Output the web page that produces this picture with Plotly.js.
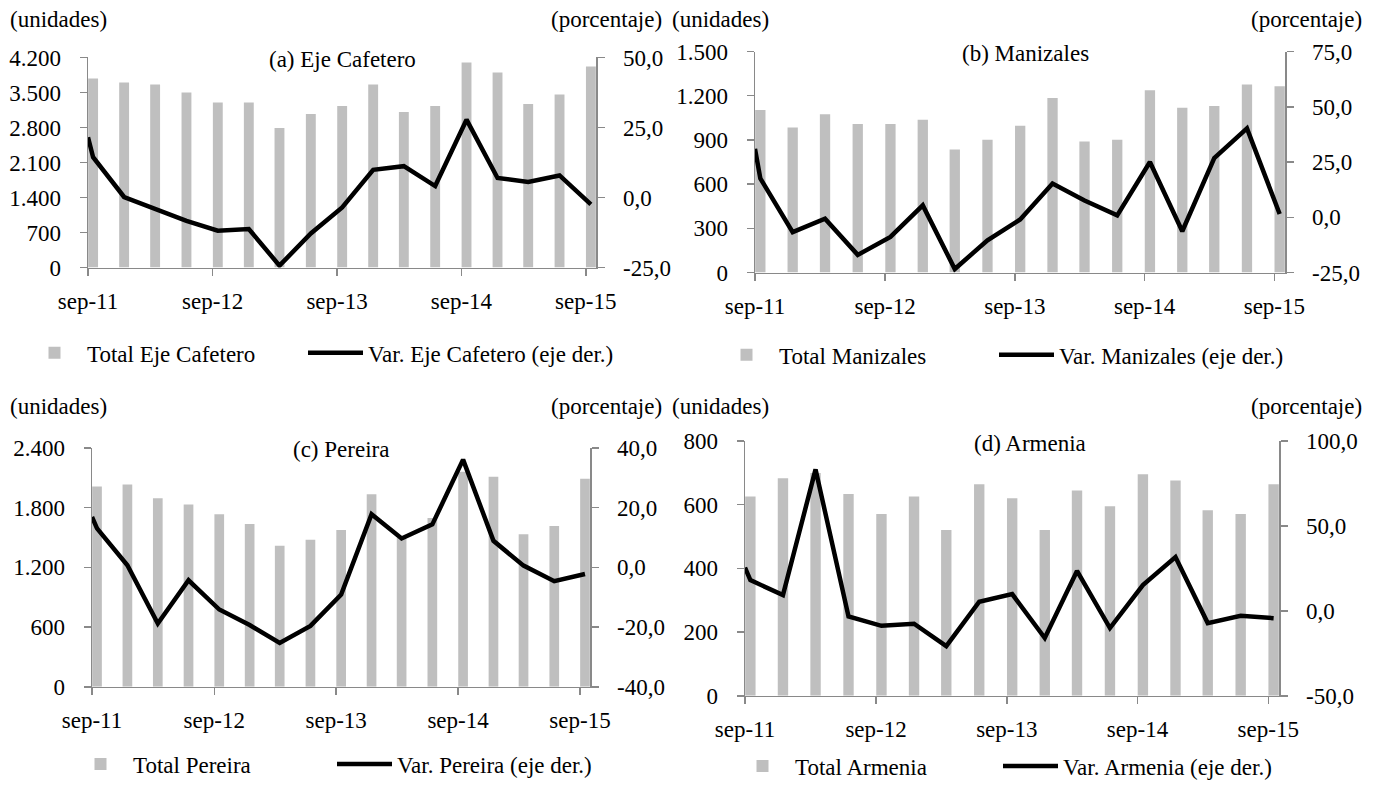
<!DOCTYPE html>
<html>
<head>
<meta charset="utf-8">
<script src="https://cdn.plot.ly/plotly-3.0.1.min.js"></script>
<style>html,body{margin:0;padding:0;background:#fff;overflow:hidden;}#chart{width:1385px;height:788px;}</style>
</head>
<body>
<div id="chart"></div>
<script>
// ---- data ----
const quarters = ['2011-09-16','2011-12-16','2012-03-16','2012-06-16','2012-09-16','2012-12-16','2013-03-16','2013-06-16','2013-09-16','2013-12-16','2014-03-16','2014-06-16','2014-09-16','2014-12-16','2015-03-16','2015-06-16','2015-09-16'];
const lineDates = ['2011-09-01'].concat(quarters); // first point: value where the line enters the plot
const yearTickVals = ['2011-09-01','2012-09-01','2013-09-01','2014-09-01','2015-09-01'];
const yearTickText = ['sep-11','sep-12','sep-13','sep-14','sep-15'];

const totalEje = [3780,3700,3660,3500,3300,3300,2790,3070,3230,3660,3110,3230,4100,3900,3270,3460,4020];
const varEje = [21.5,14.4,0.2,-3.9,-8.3,-11.8,-11.2,-24.3,-12.8,-3.5,9.9,11.2,4.1,27.8,7.0,5.6,7.9,-2.4];
const totalManizales = [1104,984,1075,1008,1008,1037,836,901,997,1185,890,901,1238,1118,1131,1276,1265];
const varManizales = [31.0,17.6,-6.7,-0.6,-17.0,-8.9,5.4,-23.4,-10.4,-1.0,15.3,7.6,0.9,25.0,-6.3,26.8,40.2,1.5];
const totalPereira = [2012,2032,1896,1833,1733,1637,1418,1477,1577,1936,1500,1697,2160,2112,1534,1617,2092];
const varPereira = [16.9,13.1,0.7,-18.8,-4.3,-14.1,-19.3,-25.3,-19.6,-9.1,17.8,9.7,14.4,36.1,8.9,0.6,-4.6,-2.2];
const totalArmenia = [626,683,700,634,571,626,521,664,620,521,645,595,696,676,583,571,664];
const varArmenia = [25.5,18.1,9.3,83.3,-3.3,-8.8,-7.6,-20.8,5.4,9.9,-16.0,23.5,-10.1,15.2,31.7,-7.2,-2.9,-4.3];

const leftTicksEje = [0,700,1400,2100,2800,3500,4200];
const leftTextEje = ['0','700','1.400','2.100','2.800','3.500','4.200'];
const rightTicksEje = [-25,0,25,50];
const rightTextEje = ['-25,0','0,0','25,0','50,0'];
const leftTicksMan = [0,300,600,900,1200,1500];
const leftTextMan = ['0','300','600','900','1.200','1.500'];
const rightTicksMan = [-25,0,25,50,75];
const rightTextMan = ['-25,0','0,0','25,0','50,0','75,0'];
const leftTicksPer = [0,600,1200,1800,2400];
const leftTextPer = ['0','600','1.200','1.800','2.400'];
const rightTicksPer = [-40,-20,0,20,40];
const rightTextPer = ['-40,0','-20,0','0,0','20,0','40,0'];
const leftTicksArm = [0,200,400,600,800];
const leftTextArm = ['0','200','400','600','800'];
const rightTicksArm = [-50,0,50,100];
const rightTextArm = ['-50,0','0,0','50,0','100,0'];

const panelTitles = ['(a) Eje Cafetero','(b) Manizales','(c) Pereira','(d) Armenia'];
const barNames = ['Total Eje Cafetero','Total Manizales','Total Pereira','Total Armenia'];
const lineNames = ['Var. Eje Cafetero (eje der.)','Var. Manizales (eje der.)','Var. Pereira (eje der.)','Var. Armenia (eje der.)'];

// ---- styling ----
const W = 1385, H = 788;
const FONT = '"Liberation Serif", "Times New Roman", Times, serif';
const FS = 23;
const AXC = '#898989';
const BARC = '#BFBFBF';
const BARW = 29 * 86400000;
const LEG_TEXT_OFFSET = 66;
const px = v => v / W;
const py = v => 1 - v / H;

const panels = [
  {tot: totalEje, vr: varEje, lt: leftTicksEje, ltx: leftTextEje, lr: [0,4200], rt: rightTicksEje, rtx: rightTextEje, rr: [-25,50],
   dom: {x0: 88, x1: 596, y0: 58, y1: 270}, leg: {bx: 88, lx: 369, y: 356}, titleDx: 0},
  {tot: totalManizales, vr: varManizales, lt: leftTicksMan, ltx: leftTextMan, lr: [0,1500], rt: rightTicksMan, rtx: rightTextMan, rr: [-25,75],
   dom: {x0: 755, x1: 1285, y0: 52, y1: 275}, leg: {bx: 780, lx: 1060, y: 358}, titleDx: 5},
  {tot: totalPereira, vr: varPereira, lt: leftTicksPer, ltx: leftTextPer, lr: [0,2400], rt: rightTicksPer, rtx: rightTextPer, rr: [-40,40],
   dom: {x0: 92, x1: 590, y0: 452, y1: 693}, leg: {bx: 134, lx: 398, y: 771}, titleDx: 0},
  {tot: totalArmenia, vr: varArmenia, lt: leftTicksArm, ltx: leftTextArm, lr: [0,800], rt: rightTicksArm, rtx: rightTextArm, rr: [-50,100],
   dom: {x0: 745, x1: 1279, y0: 445, y1: 702}, leg: {bx: 796, lx: 1064, y: 773}, titleDx: 18}
];

const data = [];
const layout = {
  width: W, height: H,
  margin: {l: 0, r: 0, t: 0, b: 0},
  paper_bgcolor: '#fff', plot_bgcolor: 'rgba(0,0,0,0)',
  font: {family: FONT, size: FS, color: '#000'},
  showlegend: true,
  annotations: [],
  barmode: 'overlay'
};

const tf = {family: FONT, size: FS, color: '#000'};
function legendAt(textX, y) {
  return {
    orientation: 'h', x: px(textX - LEG_TEXT_OFFSET), y: py(y), xanchor: 'left', yanchor: 'middle',
    bgcolor: 'rgba(0,0,0,0)', font: tf, itemwidth: 55
  };
}

panels.forEach((p, i) => {
  const n = i + 1;
  const xa = n === 1 ? 'x' : 'x' + n;
  const yL = 'y' + (2 * i + 1 === 1 ? '' : (2 * i + 1));
  const yR = 'y' + (2 * i + 2);
  const legBar = (2 * i + 1) === 1 ? 'legend' : 'legend' + (2 * i + 1);
  const legLine = 'legend' + (2 * i + 2);
  data.push({
    type: 'bar', x: quarters, y: p.tot, name: barNames[i], width: BARW,
    marker: {color: BARC, line: {width: 0}}, xaxis: xa, yaxis: yL, legend: legBar
  });
  data.push({
    type: 'scatter', mode: 'lines', x: lineDates, y: p.vr, name: lineNames[i],
    line: {color: '#000', width: 4.5}, xaxis: xa, yaxis: yR, legend: legLine
  });
  const xKey = n === 1 ? 'xaxis' : 'xaxis' + n;
  const yLKey = 'yaxis' + (2 * i + 1 === 1 ? '' : (2 * i + 1));
  const yRKey = 'yaxis' + (2 * i + 2);
  layout[xKey] = {
    type: 'date', domain: [px(p.dom.x0), px(p.dom.x1)], range: ['2011-09-01', '2015-10-01'],
    anchor: yL, tickmode: 'array', tickvals: yearTickVals, ticktext: yearTickText,
    showline: true, linecolor: AXC, linewidth: 1.5, ticks: 'outside', ticklen: 7, tickcolor: AXC, tickwidth: 1.5,
    showgrid: false, zeroline: false, tickfont: tf, ticklabelstandoff: 5, fixedrange: true, automargin: false
  };
  layout[yLKey] = {
    domain: [py(p.dom.y1), py(p.dom.y0)], range: p.lr, anchor: xa,
    tickmode: 'array', tickvals: p.lt, ticktext: p.ltx,
    showline: true, linecolor: AXC, linewidth: 1.5, ticks: 'outside', ticklen: 7, tickcolor: AXC, tickwidth: 1.5,
    showgrid: false, zeroline: false, tickfont: tf, ticklabelstandoff: 14, fixedrange: true, automargin: false
  };
  layout[yRKey] = {
    overlaying: yL, side: 'right', range: p.rr, anchor: xa,
    tickmode: 'array', tickvals: p.rt, ticktext: p.rtx,
    showline: true, linecolor: AXC, linewidth: 1.5, ticks: 'outside', ticklen: 7, tickcolor: AXC, tickwidth: 1.5,
    showgrid: false, zeroline: false, tickfont: tf, ticklabelstandoff: 14, fixedrange: true, automargin: false
  };
  layout[legBar] = legendAt(p.leg.bx, p.leg.y);
  layout[legLine] = legendAt(p.leg.lx, p.leg.y);
  layout.annotations.push({
    text: panelTitles[i], xref: 'paper', yref: 'paper',
    x: px((p.dom.x0 + p.dom.x1) / 2 + p.titleDx), y: py(p.dom.y0 + 2), xanchor: 'center', yanchor: 'middle',
    showarrow: false, font: tf
  });
});

// unit labels
const unitRow = [
  {t: '(unidades)', x: 8, y: 20, a: 'left'},
  {t: '(porcentaje)', x: 664, y: 20, a: 'right'},
  {t: '(unidades)', x: 670, y: 20, a: 'left'},
  {t: '(porcentaje)', x: 1364, y: 20, a: 'right'},
  {t: '(unidades)', x: 8, y: 410, a: 'left'},
  {t: '(porcentaje)', x: 664, y: 410, a: 'right'},
  {t: '(unidades)', x: 670, y: 410, a: 'left'},
  {t: '(porcentaje)', x: 1364, y: 410, a: 'right'}
];
unitRow.forEach(u => layout.annotations.push({
  text: u.t, xref: 'paper', yref: 'paper', x: px(u.x), y: py(u.y), xanchor: u.a, yanchor: 'middle',
  showarrow: false, font: tf
}));

Plotly.newPlot('chart', data, layout, {displayModeBar: false, staticPlot: true});
</script>
</body>
</html>
